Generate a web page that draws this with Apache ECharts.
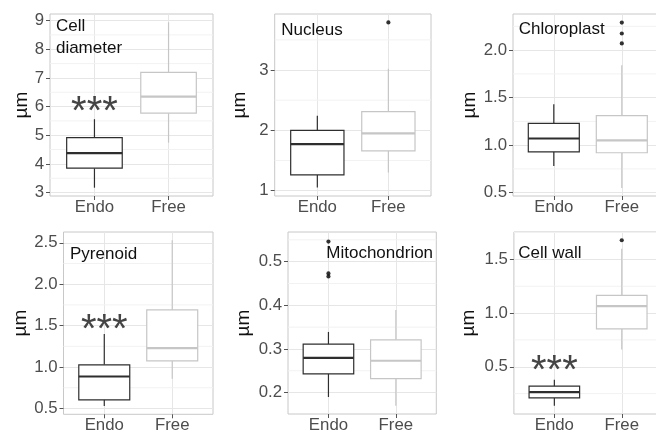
<!DOCTYPE html>
<html>
<head>
<meta charset="utf-8">
<script src="https://cdn.jsdelivr.net/npm/echarts@6/dist/echarts.min.js"></script>
<style>
html,body{margin:0;padding:0;background:#fff;}
#chart{width:656px;height:432px;}
</style>
</head>
<body>
<div id="chart"></div>
<script>
// ---------- DATA ----------
const categories = ['Endo', 'Free'];
const panelTitles = ['Cell\ndiameter', 'Nucleus', 'Chloroplast', 'Pyrenoid', 'Mitochondrion', 'Cell wall'];
const yAxisTitle = 'µm';
// [lower whisker, Q1, median, Q3, upper whisker]
const endoStats = [
  [3.17, 3.85, 4.375, 4.92, 5.56],
  [1.05, 1.26, 1.77, 2.0, 2.24],
  [0.78, 0.93, 1.07, 1.23, 1.43],
  [0.53, 0.605, 0.886, 1.027, 1.40],
  [0.19, 0.243, 0.2795, 0.311, 0.339],
  [0.137, 0.21, 0.263, 0.319, 0.38]
];
const freeStats = [
  [4.74, 5.77, 6.35, 7.19, 8.94],
  [1.30, 1.66, 1.95, 2.31, 3.02],
  [0.55, 0.92, 1.05, 1.31, 1.84],
  [0.86, 1.075, 1.228, 1.69, 2.53],
  [0.17, 0.232, 0.273, 0.321, 0.389],
  [0.66, 0.853, 1.065, 1.164, 1.60]
];
const endoOutliers = [[], [], [], [], [0.546, 0.473, 0.466], []];
const freeOutliers = [[], [3.79], [2.29, 2.175, 2.07], [], [], [1.678]];
const yLimits = [[2.88, 9.23], [0.91, 3.93], [0.465, 2.38], [0.43, 2.63], [0.151, 0.568], [0.06, 1.755]];
const yMajorTicks = [[3, 4, 5, 6, 7, 8, 9], [1, 2, 3], [0.5, 1, 1.5, 2], [0.5, 1, 1.5, 2, 2.5], [0.2, 0.3, 0.4, 0.5], [0.5, 1, 1.5]];
const yMinorTicks = [[3.5, 4.5, 5.5, 6.5, 7.5, 8.5], [1.5, 2.5, 3.5], [0.75, 1.25, 1.75, 2.25], [0.75, 1.25, 1.75, 2.25], [0.25, 0.35, 0.45, 0.55], [0.25, 0.75, 1.25, 1.75]];
const tickDecimals = [0, 0, 1, 1, 1, 1];
const signifLabels = ['***', '', '', '***', '', '***'];
const signifY = [6.09, null, null, 1.545, null, 0.536];

// ---------- LAYOUT / STYLE ----------
const FONT = "'Liberation Sans', Arial, sans-serif";
const endoColor = '#2e2e2e';
const freeColor = '#c6c6c6';
const gridRects = [
  {left: 50, top: 14, width: 163, height: 182},
  {left: 274.7, top: 14, width: 156.3, height: 182},
  {left: 513, top: 14, width: 149.6, height: 182},
  {left: 63.5, top: 232, width: 149.5, height: 182.3},
  {left: 288, top: 232, width: 148.3, height: 182},
  {left: 513.9, top: 232, width: 148.3, height: 182}
];
const nameGaps = [19, 25, 34, 31.5, 35, 36];
const titleAnchors = [[0.48, 8.43], [0.493, 3.665], [0.484, 2.224], [0.496, 2.364], [0.968, 0.52], [0.465, 1.56]];
const X_MIN = 0.4, X_MAX = 2.6, BOX_HALF = 0.375;

const grids = [], xAxes = [], yAxes = [], series = [];

gridRects.forEach((r, i) => {
  grids.push(Object.assign({show: true, borderColor: '#c8c8c8', borderWidth: 1, backgroundColor: '#ffffff',
    containLabel: false, outerBoundsMode: 'none'}, r));
  xAxes.push({
    gridIndex: i, type: 'value', min: X_MIN, max: X_MAX,
    axisLine: {show: false},
    axisTick: {show: true, length: 4, customValues: [1, 2], lineStyle: {color: '#555555', width: 1}},
    axisLabel: {customValues: [1, 2], formatter: v => categories[Math.round(v) - 1],
      color: '#4d4d4d', fontSize: 16.8, fontFamily: FONT, margin: 3},
    splitLine: {show: true, lineStyle: {color: '#e6e6e6', width: 1}}
  });
  const dec = tickDecimals[i];
  yAxes.push({
    gridIndex: i, type: 'value', min: yLimits[i][0], max: yLimits[i][1],
    axisLine: {show: false},
    axisTick: {show: true, length: 4, customValues: yMajorTicks[i], lineStyle: {color: '#555555', width: 1}},
    axisLabel: {customValues: yMajorTicks[i], formatter: v => Number(v).toFixed(dec),
      color: '#4d4d4d', fontSize: 16.8, fontFamily: FONT, margin: 6},
    splitLine: {show: true, lineStyle: {color: '#e6e6e6', width: 1}},
    name: yAxisTitle, nameLocation: 'middle', nameRotate: 90, nameGap: nameGaps[i],
    nameTextStyle: {color: '#111', fontSize: 19, fontFamily: FONT}
  });

  // minor grid lines
  series.push({
    type: 'custom', xAxisIndex: i, yAxisIndex: i, silent: true, z: 1,
    data: yMinorTicks[i].map(v => [1, v]),
    encode: {x: 0, y: 1},
    renderItem: (params, api) => {
      const y = api.value(1);
      const p1 = api.coord([X_MIN, y]);
      const p2 = api.coord([X_MAX, y]);
      return {type: 'line', shape: {x1: p1[0], y1: p1[1], x2: p2[0], y2: p2[1]},
        style: {stroke: '#f2f2f2', lineWidth: 1}};
    }
  });

  // boxes
  series.push({
    type: 'custom', xAxisIndex: i, yAxisIndex: i, silent: true, z: 3,
    data: [[1].concat(endoStats[i]), [2].concat(freeStats[i])],
    encode: {x: 0, y: [1, 2, 3, 4, 5]},
    renderItem: (params, api) => {
      const x = api.value(0);
      const color = x === 1 ? endoColor : freeColor;
      const pMin = api.coord([x, api.value(1)]);
      const pQ1 = api.coord([x, api.value(2)]);
      const pMed = api.coord([x, api.value(3)]);
      const pQ3 = api.coord([x, api.value(4)]);
      const pMax = api.coord([x, api.value(5)]);
      const left = api.coord([x - BOX_HALF, api.value(3)])[0];
      const right = api.coord([x + BOX_HALF, api.value(3)])[0];
      const ls = {stroke: color, lineWidth: 1.2};
      return {type: 'group', children: [
        {type: 'line', shape: {x1: pMin[0], y1: pMin[1], x2: pQ1[0], y2: pQ1[1]}, style: ls},
        {type: 'line', shape: {x1: pQ3[0], y1: pQ3[1], x2: pMax[0], y2: pMax[1]}, style: ls},
        {type: 'rect', shape: {x: left, y: pQ3[1], width: right - left, height: pQ1[1] - pQ3[1]},
          style: {fill: '#ffffff', stroke: color, lineWidth: 1.2}},
        {type: 'line', shape: {x1: left, y1: pMed[1], x2: right, y2: pMed[1]},
          style: {stroke: color, lineWidth: 2.2}}
      ]};
    }
  });

  // outliers
  const outl = endoOutliers[i].map(v => [1, v]).concat(freeOutliers[i].map(v => [2, v]));
  if (outl.length) {
    series.push({
      type: 'scatter', xAxisIndex: i, yAxisIndex: i, silent: true, z: 4,
      data: outl, symbol: 'circle', symbolSize: 4.2,
      itemStyle: {color: '#000000'}
    });
  }

  // panel title
  series.push({
    type: 'custom', xAxisIndex: i, yAxisIndex: i, silent: true, z: 5,
    data: [titleAnchors[i]],
    encode: {x: 0, y: 1},
    renderItem: (params, api) => {
      const p = api.coord([api.value(0), api.value(1)]);
      return {type: 'text', x: p[0], y: p[1], style: {text: panelTitles[i], fill: '#111111',
        fontSize: 17, fontFamily: FONT, align: 'left', verticalAlign: 'middle', lineHeight: 22}};
    }
  });

  // significance stars
  if (signifLabels[i]) {
    series.push({
      type: 'custom', xAxisIndex: i, yAxisIndex: i, silent: true, z: 5,
      data: [[1, signifY[i]]],
      encode: {x: 0, y: 1},
      renderItem: (params, api) => {
        const p = api.coord([api.value(0), api.value(1)]);
        return {type: 'text', x: p[0], y: p[1] + 9, style: {text: signifLabels[i], fill: '#444444',
          fontSize: 40, fontFamily: FONT, align: 'center', verticalAlign: 'middle'}};
      }
    });
  }
});

const chart = echarts.init(document.getElementById('chart'), null, {renderer: 'canvas'});
chart.setOption({
  animation: false,
  backgroundColor: '#ffffff',
  grid: grids,
  xAxis: xAxes,
  yAxis: yAxes,
  series: series
});
</script>
</body>
</html>
